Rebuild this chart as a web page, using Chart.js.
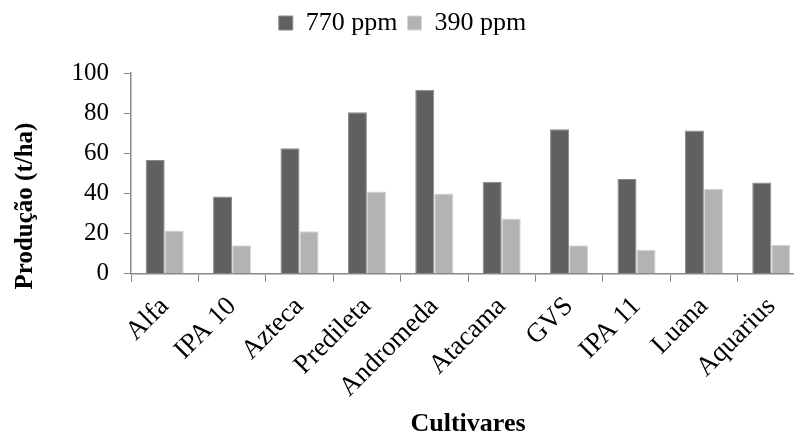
<!DOCTYPE html>
<html>
<head>
<meta charset="utf-8">
<script src="https://cdn.jsdelivr.net/npm/chart.js@4"></script>
<style>
  body { margin: 0; overflow: hidden; background: #fff; }
  #wrap { width: 810px; height: 437px; }
</style>
</head>
<body>
<div id="wrap"><canvas id="c" width="810" height="437"></canvas></div>
<script>
const cultivares = ['Alfa', 'IPA 10', 'Azteca', 'Predileta', 'Andromeda', 'Atacama', 'GVS', 'IPA 11', 'Luana', 'Aquarius'];
const ppm770 = [56.7, 38.5, 62.5, 80.5, 91.7, 45.8, 72, 47.2, 71.3, 45.5];
const ppm390 = [21.5, 14.2, 21.2, 41, 40, 27.5, 14.2, 12, 42.3, 14.5];
const yTicks = [0, 20, 40, 60, 80, 100];

const serif = "'Liberation Serif', 'Times New Roman', serif";

// y title drawn by hand so it can sit a bit below the plot centre, like the original
const yTitle = {
  id: 'yTitle',
  afterDraw(chart) {
    const ctx = chart.ctx;
    ctx.save();
    ctx.translate(26, 206);
    ctx.rotate(-Math.PI / 2);
    ctx.font = 'bold 25px ' + serif;
    ctx.fillStyle = '#000';
    ctx.textAlign = 'center';
    ctx.textBaseline = 'middle';
    ctx.fillText('Produção (t/ha)', 0, 0);
    ctx.restore();
  }
};

// extra room under the legend
const legendGap = {
  id: 'legendGap',
  beforeInit(chart) {
    const fit = chart.legend.fit;
    chart.legend.fit = function () {
      fit.bind(chart.legend)();
      this.height += 27;
    };
  }
};

new Chart(document.getElementById('c'), {
  type: 'bar',
  data: {
    labels: cultivares,
    datasets: [
      { label: '770 ppm', data: ppm770, backgroundColor: '#606060', borderColor: '#8a8a8a', borderWidth: 1 },
      { label: '390 ppm', data: ppm390, backgroundColor: '#b3b3b3', borderColor: '#d6d6d6', borderWidth: 1 }
    ]
  },
  options: {
    responsive: false,
    animation: false,
    categoryPercentage: 0.565,
    barPercentage: 1.0,
    layout: { padding: { left: 0, right: 5, top: 0, bottom: 0 } },
    plugins: {
      legend: {
        position: 'top',
        labels: {
          font: { family: serif, size: 26 },
          color: '#000',
          boxWidth: 14,
          boxHeight: 14,
          padding: 10
        }
      },
      tooltip: { enabled: false }
    },
    scales: {
      x: {
        grid: { drawOnChartArea: false, drawTicks: true, tickLength: 8, color: '#888' },
        border: { color: '#888', width: 1.5 },
        ticks: {
          font: { family: serif, size: 27 },
          color: '#000',
          minRotation: 45,
          maxRotation: 45,
          padding: 9
        },
        title: {
          display: true,
          text: 'Cultivares',
          font: { family: serif, size: 26, weight: 'bold' },
          color: '#000',
          padding: { top: -4, bottom: -3 }
        }
      },
      y: {
        min: 0,
        max: 100,
        afterBuildTicks(axis) { axis.ticks = yTicks.map(v => ({ value: v })); },
        afterFit(axis) { axis.width = 131; },
        grid: { drawOnChartArea: false, drawTicks: true, tickLength: 7, color: '#888' },
        border: { color: '#888', width: 1.5 },
        ticks: {
          font: { family: serif, size: 25 },
          color: '#000',
          padding: 15
        }
      }
    }
  },
  plugins: [yTitle, legendGap]
});
</script>
</body>
</html>
